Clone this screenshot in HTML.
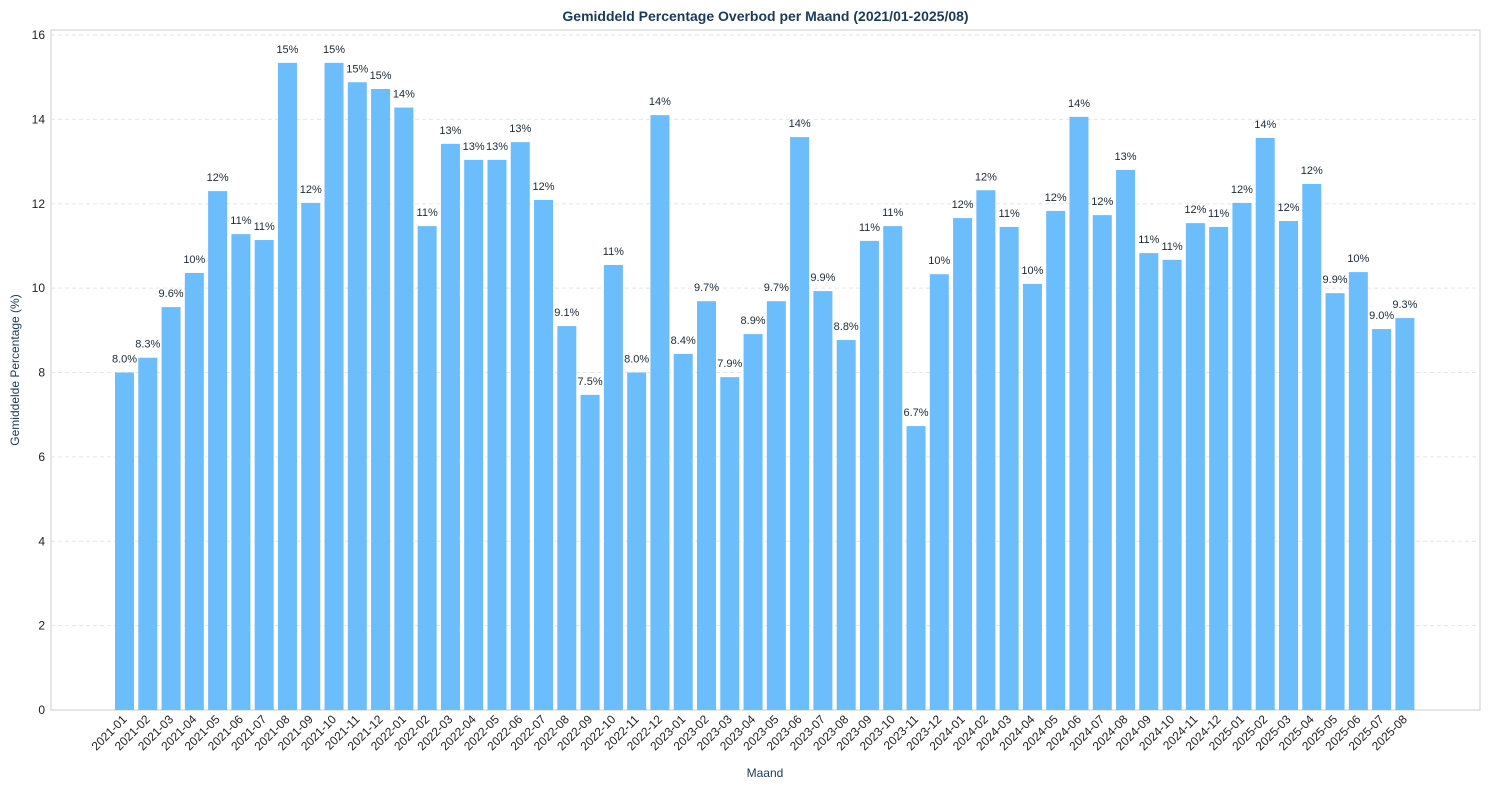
<!DOCTYPE html>
<html><head><meta charset="utf-8"><style>
body{margin:0;background:#fff;}
svg{display:block;font-family:"Liberation Sans",Arial,sans-serif;}
</style></head><body>
<svg id="chart" width="1489" height="790"></svg>
<script>
const categories=[];
for(let y=2021;y<=2025;y++){for(let m=1;m<=12;m++){if(y===2025&&m>8)break;categories.push(y+'-'+String(m).padStart(2,'0'));}}
const values=[8.0,8.35,9.55,10.36,12.3,11.28,11.14,15.34,12.02,15.34,14.88,14.72,14.28,11.47,13.42,13.04,13.04,13.46,12.09,9.1,7.47,10.55,8.0,14.1,8.44,9.69,7.89,8.91,9.69,13.58,9.93,8.77,11.12,11.47,6.73,10.33,11.66,12.32,11.45,10.1,11.83,14.06,11.73,12.8,10.83,10.67,11.54,11.45,12.02,13.56,11.59,12.47,9.88,10.38,9.03,9.29];
const yTicks=[0,2,4,6,8,10,12,14,16];
const NS='http://www.w3.org/2000/svg';
const svg=document.getElementById('chart');
const L=51,R=1480,T=30,B=710,yMax=16;
const first=124.5,step=23.28,bw=19;
const xS=i=>first+i*step;
const yS=v=>B-v*(B-T-5)/yMax;
function mk(tag,at,parent){const e=document.createElementNS(NS,tag);for(const k in at)e.setAttribute(k,at[k]);(parent||svg).appendChild(e);return e;}
// frame
let fr=mk('rect',{x:L,y:T,width:R-L,height:B-T,fill:'none',stroke:'#cccccc','stroke-width':1});


// grid & y ticks
yTicks.forEach(t=>{
  const y=yS(t);
  if(t>0){const g=mk('line',{x1:L,x2:R,y1:y,y2:y,stroke:'#e6e6e6','stroke-dasharray':'4,3'});
  
  }
  const tx=mk('text',{x:L-6,y:y+4,'text-anchor':'end','font-size':12,fill:'#222'});
  tx.textContent=t;
  
  
});
// bars
values.forEach((v,i)=>{
  const cx=xS(i);
  const r=mk('rect',{x:cx-bw/2,y:yS(v),width:bw,height:B-yS(v),fill:'#6cbdfc'});
  
  
  const lb=mk('text',{x:cx,y:yS(v)-10,'text-anchor':'middle','font-size':11,fill:'#1a2a3a'});
  lb.textContent=(v>=10?Math.round(v):v.toFixed(1))+'%';
  
  
  const tk=mk('text',{x:cx+3,y:B+10,'text-anchor':'end','font-size':12,fill:'#222',transform:`rotate(-45 ${cx+3} ${B+10})`});
  tk.textContent=categories[i];
  
  
});
let t=mk('text',{x:(L+R)/2,y:21,'text-anchor':'middle','font-size':14,'font-weight':'bold',fill:'#1a3a5c'});
t.textContent='Gemiddeld Percentage Overbod per Maand (2021/01-2025/08)';


let xt=mk('text',{x:765,y:777,'text-anchor':'middle','font-size':12,fill:'#1a3a5c'});
xt.textContent='Maand';


let yt=mk('text',{x:19,y:370,'text-anchor':'middle','font-size':12,fill:'#1a3a5c',transform:'rotate(-90 19 370)'});
yt.textContent='Gemiddelde Percentage (%)';


</script>
</body></html>
